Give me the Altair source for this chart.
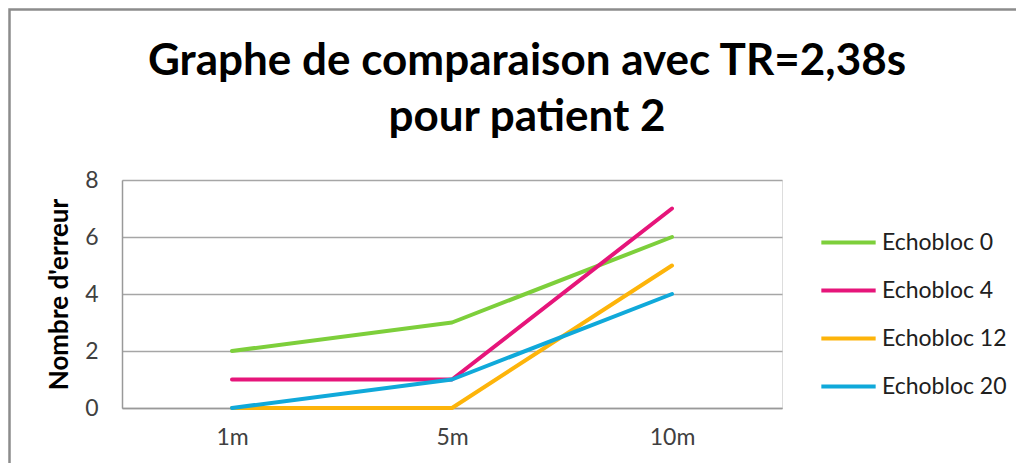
import altair as alt
import pandas as pd

categories = ["1m", "5m", "10m"]
series_names = ["Echobloc 0", "Echobloc 4", "Echobloc 12", "Echobloc 20"]
echobloc_0 = [2, 3, 6]
echobloc_4 = [1, 1, 7]
echobloc_12 = [0, 0, 5]
echobloc_20 = [0, 1, 4]
colors = ["#7DCF3B", "#E6157A", "#FDB40A", "#10A9DA"]
y_ticks = [0, 2, 4, 6, 8]
title_lines = ["Graphe de comparaison avec TR=2,38s", "pour patient 2"]

rows = []
for name, vals in zip(series_names, [echobloc_0, echobloc_4, echobloc_12, echobloc_20]):
    for c, v in zip(categories, vals):
        rows.append({"cat": c, "serie": name, "val": v})
df = pd.DataFrame(rows)

FONT = "Lato"

lines = alt.Chart(df).mark_line(strokeWidth=4, strokeCap="round", strokeJoin="round").encode(
    x=alt.X("cat:N", sort=categories, scale=alt.Scale(type="point", padding=0.5),
            axis=alt.Axis(title=None, labelAngle=0, ticks=False, grid=False, domainColor="#999999",
                          domainWidth=1.5, labelFontSize=23, labelColor="#404040", labelPadding=18,
                          labelFont=FONT)),
    y=alt.Y("val:Q", scale=alt.Scale(domain=[0, 8], nice=False),
            axis=alt.Axis(title="Nombre d'erreur", values=y_ticks, ticks=False, gridColor="#a6a6a6",
                          gridWidth=1.5, domainColor="#999999", domainWidth=1.5, labelFontSize=23,
                          labelColor="#404040", labelPadding=24, titleFontSize=26, titleFont=FONT,
                          labelFont=FONT, titleFontWeight="bold", titleColor="#000000", titlePadding=12)),
    color=alt.Color("serie:N", sort=series_names,
                    scale=alt.Scale(domain=series_names, range=colors),
                    legend=alt.Legend(title=None, orient="none", legendX=697, legendY=33,
                                      symbolType="stroke", symbolSize=2950, symbolStrokeWidth=4,
                                      labelFontSize=23, labelFont=FONT, labelColor="#202020",
                                      labelOffset=4, rowPadding=6)),
)

border = alt.Chart(alt.Data(values=[{"a": 1}])).mark_rect(
    fill=None, stroke="#8c8c8c", strokeWidth=2.5, clip=False
).encode(
    x=alt.value(-112.5), x2=alt.value(1200), y=alt.value(-170.5), y2=alt.value(600)
)

title_layers = []
for txt, ypos in zip(title_lines, [-105, -49]):
    title_layers.append(
        alt.Chart(alt.Data(values=[{"t": txt}])).mark_text(
            font=FONT, fontSize=44, fontWeight="bold", color="#000000",
            align="center", baseline="alphabetic"
        ).encode(text="t:N", x=alt.value(405), y=alt.value(ypos))
    )

chart = alt.layer(border, lines, *title_layers).properties(
    width=660,
    height=228,
    padding={"left": 114, "top": 172, "right": 234, "bottom": 55},
    autosize=alt.AutoSizeParams(type="none"),
).configure_view(stroke=None).configure(background="white")

chart.save("out.html", embed_options={"renderer": "svg", "actions": False})
